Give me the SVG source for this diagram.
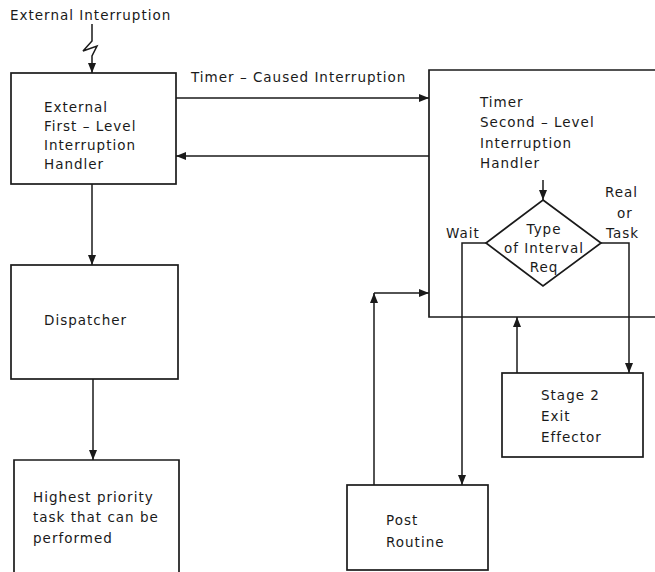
<svg xmlns="http://www.w3.org/2000/svg" width="655" height="572" viewBox="0 0 655 572">
<style>
.b{fill:none;stroke:#1a1a1a;stroke-width:1.7}
.c{fill:none;stroke:#1a1a1a;stroke-width:1.5}
text{font-family:"DejaVu Sans","Liberation Sans",sans-serif;font-size:13.5px;letter-spacing:1px;fill:#1a1a1a}
</style>
<defs>
<marker id="ah" viewBox="0 0 10 10" refX="10" refY="5" markerWidth="10" markerHeight="10" markerUnits="userSpaceOnUse" orient="auto">
<path d="M0 1 L10 5 L0 9 Z" fill="#1a1a1a"/>
</marker>
</defs>
<rect width="655" height="572" fill="#fff"/>
<text x="10" y="20">External Interruption</text>
<g id="connectors">
<path class="c" d="M92 24 V41 L83 51 L97 46 L92 56 V73" marker-end="url(#ah)"/>
<path class="c" d="M176 98 H429" marker-end="url(#ah)"/>
<text x="191" y="82">Timer – Caused Interruption</text>
<path class="c" d="M429 156 H176" marker-end="url(#ah)"/>
<path class="c" d="M92 184 V265" marker-end="url(#ah)"/>
<path class="c" d="M93 379 V460" marker-end="url(#ah)"/>
<path class="c" d="M543 180 V200" marker-end="url(#ah)"/>
<path class="c" d="M486 243 H462 V485" marker-end="url(#ah)"/>
<path class="c" d="M601 243 H629 V373" marker-end="url(#ah)"/>
<path class="c" d="M517 373 V317" marker-end="url(#ah)"/>
<path class="c" d="M374 485 V293" marker-end="url(#ah)"/>
<path class="c" d="M374 293 H429" marker-end="url(#ah)"/>
<text x="446" y="238">Wait</text>
<text x="605" y="197">Real</text>
<text x="617" y="218">or</text>
<text x="606" y="238">Task</text>
</g>
<g id="first-level">
<rect class="b" x="11" y="73" width="165" height="111"/>
<text x="44" y="112">External</text>
<text x="44" y="131">First – Level</text>
<text x="44" y="150">Interruption</text>
<text x="44" y="169">Handler</text>
</g>
<g id="timer">
<path class="b" d="M660 70 H429 V317 H660"/>
<text x="480" y="107">Timer</text>
<text x="480" y="127">Second – Level</text>
<text x="480" y="148">Interruption</text>
<text x="480" y="168">Handler</text>
</g>
<g id="decision">
<path class="b" d="M543 200 L601 243 L543 286 L486 243 Z"/>
<text x="544" y="234" text-anchor="middle">Type</text>
<text x="544" y="253" text-anchor="middle">of Interval</text>
<text x="544" y="272" text-anchor="middle">Req</text>
</g>
<g id="dispatcher">
<rect class="b" x="11" y="265" width="167" height="114"/>
<text x="44" y="325">Dispatcher</text>
</g>
<g id="highest">
<path class="b" d="M14 572 V460 H179 V572"/>
<text x="33" y="502">Highest priority</text>
<text x="33" y="522">task that can be</text>
<text x="33" y="543">performed</text>
</g>
<g id="stage2">
<rect class="b" x="502" y="373" width="141" height="84"/>
<text x="541" y="400">Stage 2</text>
<text x="541" y="421">Exit</text>
<text x="541" y="442">Effector</text>
</g>
<g id="post">
<rect class="b" x="347" y="485" width="141" height="85"/>
<text x="386" y="525">Post</text>
<text x="386" y="547">Routine</text>
</g>
</svg>
